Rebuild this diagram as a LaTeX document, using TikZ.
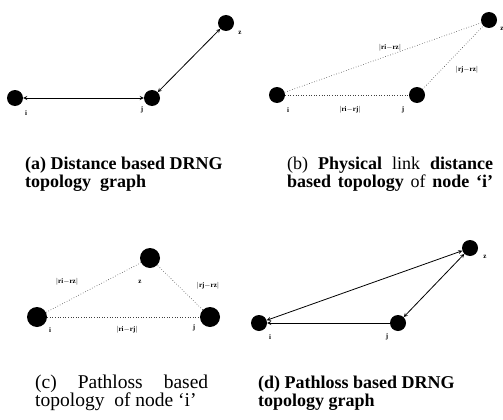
\documentclass[tikz,border=0pt]{standalone}
\usepackage{fontspec}
\setmainfont{Liberation Serif}
\usetikzlibrary{arrows.meta}
\tikzset{>=stealth}
\tikzset{
  dot/.style={circle, fill=black, inner sep=0pt, minimum size=16pt},
  bigdot/.style={circle, fill=black, inner sep=0pt, minimum size=20pt},
  lbl/.style={font=\fontsize{7}{8}\selectfont\bfseries, inner sep=1pt},
  link/.style={line width=0.8pt, <->},
  plink/.style={dotted, line width=0.6pt, black!75},
  capline/.style={font=\fontsize{18}{18}\selectfont, anchor=base west, inner sep=0pt}
}

\begin{document}
\begin{tikzpicture}[x=1pt, y=-1pt]
\useasboundingbox (0,0) rectangle (503,420);
% (a)
\node[dot] (ai) at (15,98) {};
\node[dot] (aj) at (152,98) {};
\node[dot] (az) at (226,23) {};
\node[lbl] at (26,113) {i};
\node[lbl] at (142,110) {j};
\node[lbl] at (240,33) {z};
\draw[link] (ai) -- (aj);
\draw[link] (aj) -- (az);
\node[capline] (capa1) at (25,169) {\textbf{(a) Distance based DRNG}};
\node[capline] (capa2) at (25,187) {\textbf{topology\ \ graph}};
% (b)
\node[dot] (bi) at (277,95) {};
\node[dot] (bj) at (417,95) {};
\node[dot] (bz) at (489,20) {};
\node[lbl] at (288,110) {i};
\node[lbl] at (403,110) {j};
\node[lbl] at (502,29) {z};
\draw[plink] (bi) -- (bj);
\draw[plink] (bi) -- (bz);
\draw[plink] (bj) -- (bz);
\node[lbl] at (390,48) {$|$ri$-$rz$|$};
\node[lbl] at (467,70) {$|$rj$-$rz$|$};
\node[lbl] at (350,110) {$|$ri$-$rj$|$};
\node[capline] (capb1) at (287,169) {\makebox[206pt][s]{(b) \textbf{Physical} link \textbf{distance}}};
\node[capline] (capb2) at (287,187) {\makebox[206pt][s]{\textbf{based topology} of \textbf{node `i'}}};
% (c)
\node[bigdot] (ci) at (37,317) {};
\node[bigdot] (cj) at (210,317) {};
\node[bigdot] (cz) at (150,258) {};
\node[lbl] at (50,330) {i};
\node[lbl] at (194,328) {j};
\node[lbl] at (140,282) {z};
\draw[plink] (ci) -- (cj);
\draw[plink] (ci) -- (cz);
\draw[plink] (cj) -- (cz);
\node[lbl] at (67,282) {$|$ri$-$rz$|$};
\node[lbl] at (208,286) {$|$rj$-$rz$|$};
\node[lbl] at (127,330) {$|$ri$-$rj$|$};
\node[capline, font=\fontsize{19.5}{19.5}\selectfont] (capc1) at (35,388) {\makebox[173pt][s]{(c) Pathloss based}};
\node[capline, font=\fontsize{19.5}{19.5}\selectfont] (capc2) at (35,406) {topology\ \ of node `i'};
% (d)
\node[dot] (di) at (259,323) {};
\node[dot] (dj) at (398,323) {};
\node[dot] (dz) at (470,248) {};
\node[lbl] at (270,337) {i};
\node[lbl] at (387,337) {j};
\node[lbl] at (485,257) {z};
\draw[link] (di) -- (dz);
\draw[line width=0.8pt, ->] (dj) -- (di);
\draw[link] (dj) -- (dz);
\node[capline] (capd1) at (258,388) {\textbf{(d) Pathloss based DRNG}};
\node[capline] (capd2) at (258,406) {\textbf{topology graph}};
\end{tikzpicture}
\end{document}
